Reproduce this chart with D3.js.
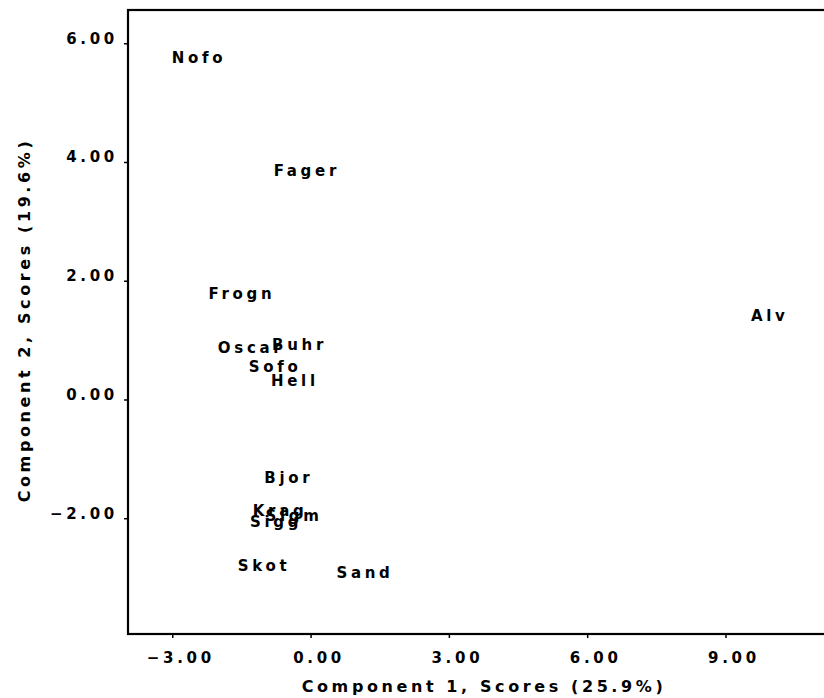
<!DOCTYPE html>
<html>
<head>
<meta charset="utf-8">
<script src="https://cdn.jsdelivr.net/npm/d3@7"></script>
<style>
  html, body { margin: 0; padding: 0; background: #fff; }
  svg { display: block; }
  text { font-family: "DejaVu Sans", sans-serif; font-weight: bold; fill: #000; }
</style>
</head>
<body>
<svg id="chart" width="824" height="698"></svg>
<script>
// Component scores per site (component 1 vs component 2)
const sites  = ["Nofo", "Fager", "Frogn", "Alv", "Oscar", "Buhr", "Sofo", "Hell", "Bjor", "Krag", "Sigm", "Sigg", "Skot", "Sand"];
const comp1  = [-2.46, -0.12, -1.53, 9.92, -1.33, -0.28, -0.81, -0.38, -0.51, -0.70, -0.40, -0.79, -1.05, 1.14];
const comp2  = [5.76, 3.85, 1.79, 1.41, 0.87, 0.92, 0.56, 0.31, -1.31, -1.88, -1.96, -2.05, -2.80, -2.91];

const xTicks = [-3, 0, 3, 6, 9];
const yTicks = [-2, 0, 2, 4, 6];
const xTitle = "Component 1, Scores (25.9%)";
const yTitle = "Component 2, Scores (19.6%)";

const svg = d3.select("#chart");
const plotLeft = 128, plotRight = 826, plotTop = 10, plotBottom = 634;
const spacing = 3.7;

const x = d3.scaleLinear().domain([-3.96, 11.18]).range([plotLeft, plotRight]);
const y = d3.scaleLinear().domain([-3.95, 6.56]).range([plotBottom, plotTop]);
const fmt = d3.format(".2f");

// Frame
svg.append("rect")
  .attr("x", plotLeft).attr("y", plotTop)
  .attr("width", plotRight - plotLeft).attr("height", plotBottom - plotTop)
  .attr("fill", "none").attr("stroke", "#000").attr("stroke-width", 2.2);

// X axis
const gx = svg.append("g")
  .attr("transform", `translate(0,${plotBottom})`)
  .call(d3.axisBottom(x).tickValues(xTicks).tickFormat(fmt).tickSizeInner(4).tickSizeOuter(0).tickPadding(14));
gx.select(".domain").remove();
gx.selectAll("line").attr("stroke", "#000").attr("stroke-width", 1.5);
gx.selectAll("text")
  .attr("font-size", 15).attr("letter-spacing", spacing)
  .attr("dx", 8).attr("fill", "#000");

// Y axis
const gy = svg.append("g")
  .attr("transform", `translate(${plotLeft},0)`)
  .call(d3.axisLeft(y).tickValues(yTicks).tickFormat(fmt).tickSizeInner(4).tickSizeOuter(0).tickPadding(8));
gy.select(".domain").remove();
gy.selectAll("line").attr("stroke", "#000").attr("stroke-width", 1.5);
gy.selectAll("text")
  .attr("font-size", 15).attr("letter-spacing", spacing)
  .attr("dy", "0.0em").attr("dx", 2).attr("fill", "#000");

// Site labels placed at their scores
svg.append("g").selectAll("text")
  .data(sites)
  .join("text")
  .attr("x", (d, i) => x(comp1[i]))
  .attr("y", (d, i) => y(comp2[i]))
  .attr("dx", spacing / 2)
  .attr("dy", "0.36em")
  .attr("text-anchor", "middle")
  .attr("font-size", 15)
  .attr("letter-spacing", spacing)
  .text(d => d);

// Axis titles
svg.append("text")
  .attr("x", 484).attr("y", 692)
  .attr("text-anchor", "middle")
  .attr("font-size", 16).attr("letter-spacing", 3.6)
  .text(xTitle);

svg.append("text")
  .attr("transform", "translate(30,320) rotate(-90)")
  .attr("text-anchor", "middle")
  .attr("font-size", 16).attr("letter-spacing", 3.6)
  .text(yTitle);
</script>
</body>
</html>
